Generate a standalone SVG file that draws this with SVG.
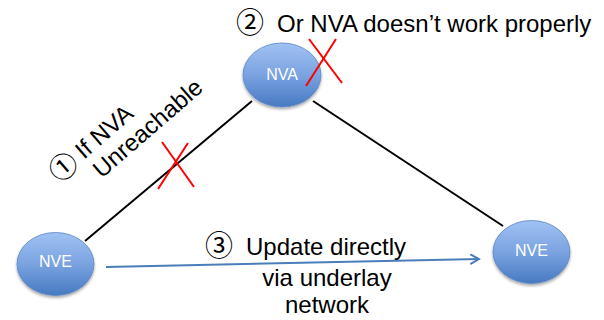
<svg xmlns="http://www.w3.org/2000/svg" width="604" height="320" viewBox="0 0 604 320">
<defs>
<linearGradient id="blue" x1="0" y1="0" x2="0" y2="1">
<stop offset="0" stop-color="#a0c2f4"/>
<stop offset="0.5" stop-color="#7aa3e0"/>
<stop offset="1" stop-color="#4779c2"/>
</linearGradient>
<filter id="sh" x="-20%" y="-20%" width="140%" height="150%">
<feGaussianBlur in="SourceAlpha" stdDeviation="1.5"/>
<feOffset dy="2" result="b"/>
<feComponentTransfer><feFuncA type="linear" slope="0.35"/></feComponentTransfer>
<feMerge><feMergeNode/><feMergeNode in="SourceGraphic"/></feMerge>
</filter>
<marker id="arr" markerWidth="12" markerHeight="12" refX="10" refY="6" orient="auto" markerUnits="userSpaceOnUse">
<path d="M2,1.5 L10,6 L2,10.5" fill="none" stroke="#4a7ebb" stroke-width="2" stroke-linecap="round"/>
</marker>
</defs>
<style>
.node{fill:url(#blue);stroke:#5b86c5;stroke-width:0.8;filter:url(#sh)}
.nl{font-family:"Liberation Sans",Arial,sans-serif;font-size:16px;fill:#ffffff;text-anchor:middle}
.t{font-family:"Liberation Sans",Arial,sans-serif;font-size:24px;fill:#000}
.c{font-family:"Noto Sans CJK JP","DejaVu Sans",sans-serif;font-size:28px;fill:#000}
.x{stroke:#ff0000;stroke-width:2;fill:none}
</style>
<g id="connectors">
<line x1="85" y1="241" x2="252" y2="101" stroke="#000" stroke-width="2"/>
<line x1="313" y1="101" x2="503" y2="226" stroke="#000" stroke-width="2"/>
<line x1="106" y1="267" x2="479" y2="259" stroke="#4a7ebb" stroke-width="2" marker-end="url(#arr)"/>
</g>
<g id="nva">
<ellipse class="node" cx="282" cy="75" rx="39" ry="32"/>
<text class="nl" x="282" y="80">NVA</text>
</g>
<g id="nve-left">
<ellipse class="node" cx="55.5" cy="264" rx="38.5" ry="31.5"/>
<text class="nl" x="55.5" y="267">NVE</text>
</g>
<g id="nve-right">
<ellipse class="node" cx="531.5" cy="252" rx="38.5" ry="31.5"/>
<text class="nl" x="531.5" y="256">NVE</text>
</g>
<g id="marks">
<line class="x" x1="309" y1="39" x2="342" y2="83"/>
<line class="x" x1="336" y1="39" x2="306" y2="86"/>
<line class="x" x1="162" y1="142" x2="194" y2="187"/>
<line class="x" x1="188" y1="143" x2="158" y2="189"/>
</g>
<g id="labels">
<text class="c" x="236" y="33">②</text>
<text class="t" x="277" y="32">Or NVA doesn’t work properly</text>
<g transform="translate(62,179) rotate(-41)">
<text class="c" x="-5" y="2">①</text>
<text class="t" x="29" y="0">If NVA</text>
<text class="t" x="30" y="26">Unreachable</text>
</g>
<text class="c" x="205" y="256">③</text>
<text class="t" x="246" y="255">Update directly</text>
<text class="t" x="327" y="286" text-anchor="middle">via underlay</text>
<text class="t" x="327" y="313" text-anchor="middle">network</text>
</g>
</svg>
